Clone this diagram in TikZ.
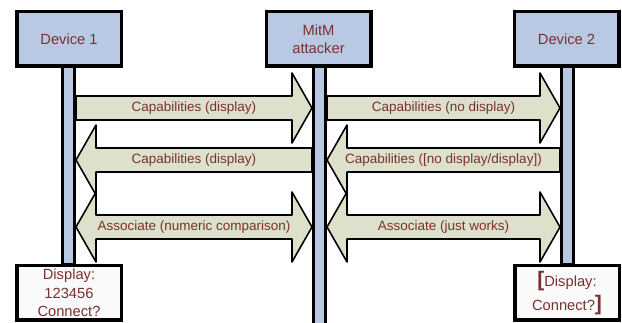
\documentclass[tikz,border=0pt]{standalone}
\usepackage{fontspec}
\setmainfont{Liberation Sans}
\usetikzlibrary{calc}
\definecolor{lifeblue}{RGB}{185,201,227}
\definecolor{msgfill}{RGB}{221,225,203}
\definecolor{labelred}{RGB}{122,48,48}
\definecolor{notefill}{RGB}{250,250,250}

% #1 from, #2 to, #3 y (px), #4 text
\newcommand{\msgright}[4]{%
  \draw[msg] let \p1=(#1.east |- 0,#3), \p2=(#2.west |- 0,#3) in
    (\x1,\y1+12pt) -- (\x2-20pt,\y1+12pt) -- (\x2-20pt,\y1+35pt) -- (\x2,\y1)
    -- (\x2-20pt,\y1-35pt) -- (\x2-20pt,\y1-12pt) -- (\x1,\y1-12pt) -- cycle
    ({(\x1+\x2)/2},\y1) node[msglabel] {#4};}
\newcommand{\msgleft}[4]{%
  \draw[msg] let \p1=(#1.east |- 0,#3), \p2=(#2.west |- 0,#3) in
    (\x1,\y1) -- (\x1+20pt,\y1+35pt) -- (\x1+20pt,\y1+12pt) -- (\x2,\y1+12pt)
    -- (\x2,\y1-12pt) -- (\x1+20pt,\y1-12pt) -- (\x1+20pt,\y1-35pt) -- cycle
    ({(\x1+\x2)/2},\y1) node[msglabel] {#4};}
\newcommand{\msgboth}[4]{%
  \draw[msg] let \p1=(#1.east |- 0,#3), \p2=(#2.west |- 0,#3) in
    (\x1,\y1) -- (\x1+20pt,\y1+35pt) -- (\x1+20pt,\y1+12pt) -- (\x2-20pt,\y1+12pt)
    -- (\x2-20pt,\y1+35pt) -- (\x2,\y1) -- (\x2-20pt,\y1-35pt) -- (\x2-20pt,\y1-12pt)
    -- (\x1+20pt,\y1-12pt) -- (\x1+20pt,\y1-35pt) -- cycle
    ({(\x1+\x2)/2},\y1) node[msglabel] {#4};}

\begin{document}
\begin{tikzpicture}[x=1pt,y=-1pt,
    party/.style={draw=black,line width=3.5pt,fill=lifeblue,minimum width=104.5pt,
      minimum height=54.5pt,text=labelred,align=center,font=\fontsize{14.7}{18}\selectfont},
    lifeline/.style={draw=black,line width=3pt,fill=lifeblue,minimum width=12pt,inner sep=0pt},
    note/.style={party,fill=notefill},
    msg/.style={draw=black,line width=1.6pt,line join=round,fill=msgfill},
    msglabel/.style={text=labelred,font=\fontsize{13.5}{15}\selectfont}]
  \useasboundingbox (0,0) rectangle (622,323);
  % lifelines
  \node[lifeline,minimum height=199pt] (l1) at (68.5,165.5) {};
  \node[lifeline,minimum height=264pt] (l2) at (319.5,198) {};
  \node[lifeline,minimum height=199pt] (l3) at (567.5,165.5) {};
  % parties
  \node[party] (dev1) at (69,39) {Device 1};
  \node[party] (mitm) at (318.5,39) {MitM\\attacker};
  \node[party] (dev2) at (566.5,39) {Device 2};
  % messages
  \msgright{l1}{l2}{108}{Capabilities (display)}
  \msgright{l2}{l3}{108}{Capabilities (no display)}
  \msgleft{l1}{l2}{160}{Capabilities (display)}
  \msgleft{l2}{l3}{160}{Capabilities ([no display/display])}
  \msgboth{l1}{l2}{227}{Associate (numeric comparison)}
  \msgboth{l2}{l3}{227}{Associate (just works)}
  % user prompts
  \node[note,font=\fontsize{14.7}{18.5}\selectfont] (note1) at (69,293) {Display:\\123456\\Connect?};
  \node[note,font=\fontsize{14.7}{24}\selectfont] (note2) at (567,293)
    {{\bfseries\fontsize{21}{18}\selectfont[}Display:\\Connect?{\bfseries\fontsize{21}{18}\selectfont]}};
\end{tikzpicture}
\end{document}
